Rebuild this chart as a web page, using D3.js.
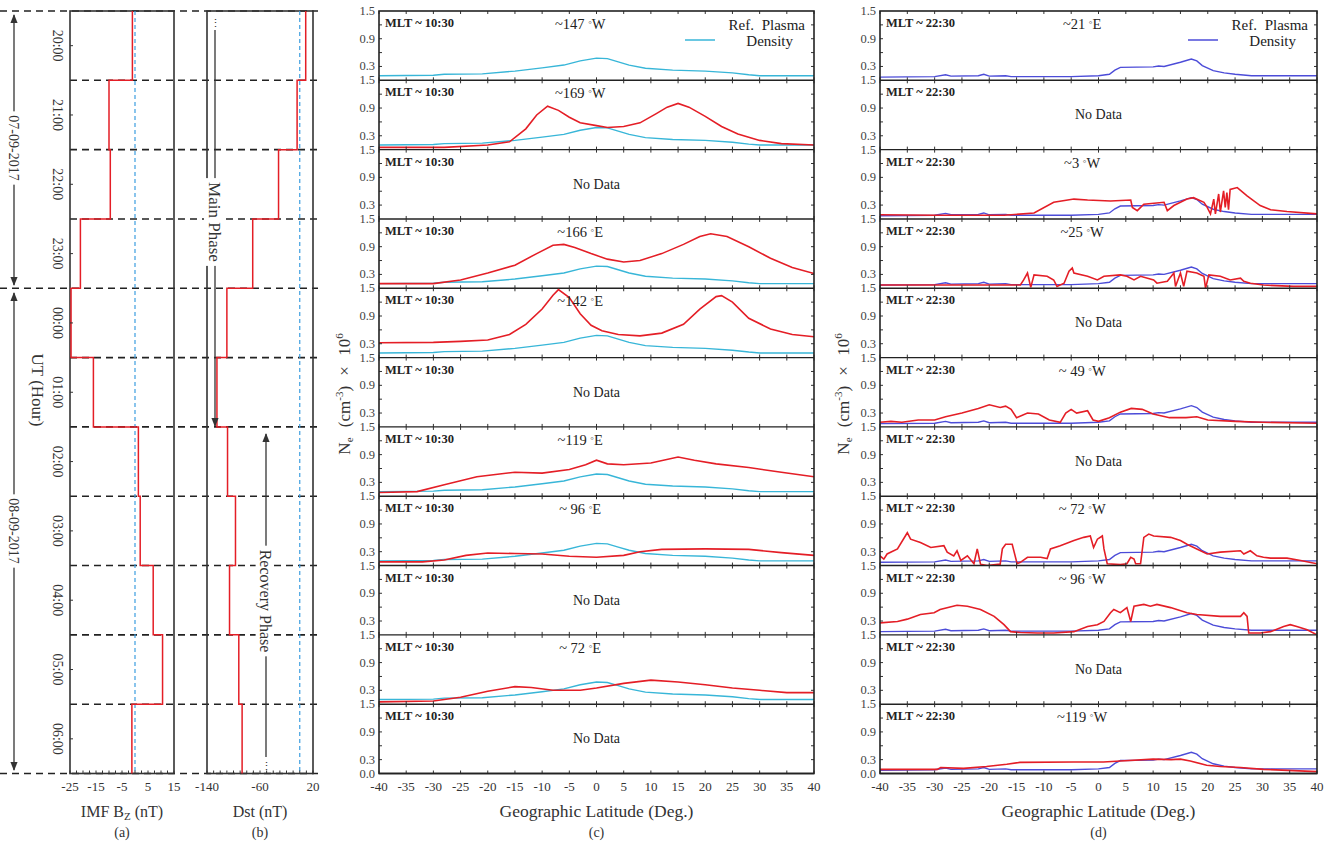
<!DOCTYPE html>
<html>
<head>
<meta charset="utf-8">
<script src="https://cdn.jsdelivr.net/npm/d3@7"></script>
<style>
  body { margin: 0; background: #fff; }
  svg { display: block; font-family: "Liberation Serif", "DejaVu Serif", serif; }
</style>
</head>
<body>
<div id="chart"></div>
<script>
// couleurs
const RED = '#e41e26', CYAN = '#38b6d8', BLUE = '#4c4cd8', DASHBLUE = '#3d9ee0';

// --- données (a) et (b)
const hours = ['20:00', '21:00', '22:00', '23:00', '00:00', '01:00', '02:00', '03:00', '04:00', '05:00', '06:00'];
const imfBz = [-1, -10, -9.5, -21, -24.6, -16, 1.3, 2, 7, 10.6, -1.2];
const dst = [9, -4, -32, -71, -110, -125, -109, -97, -106, -92, -87];
const bzTicks = [-25, -15, -5, 5, 15];
const dstTicks = [-140, -60, 20];
const dayBreaks = [0, 4, 11];   // frontières des jours (lignes pleine largeur)

// --- données (c) et (d)
const latTicks = [-40, -35, -30, -25, -20, -15, -10, -5, 0, 5, 10, 15, 20, 25, 30, 35, 40];
const neTicks = [0.3, 0.9, 1.5];

const refC = [[-40,0.1],[-30,0.11],[-28,0.13],[-21,0.14],[-15,0.2],[-10,0.27],[-6,0.33],[-3,0.42],[0,0.48],[2,0.47],[4,0.4],[6,0.33],[9,0.26],[14,0.22],[20,0.2],[25,0.16],[28,0.12],[30,0.1],[40,0.1]];
const refD = [[-40,0.07],[-30,0.08],[-28,0.12],[-27,0.09],[-22,0.1],[-21,0.13],[-20,0.09],[-17,0.1],[-16,0.08],[-5,0.08],[0,0.1],[2,0.13],[3,0.22],[4,0.28],[10,0.29],[11,0.31],[12,0.3],[15,0.39],[17,0.46],[18,0.42],[19,0.32],[21,0.21],[23,0.16],[25,0.13],[28,0.1],[40,0.1]];

const red169W = [[-40,0.05],[-28,0.05],[-20,0.1],[-16,0.17],[-13,0.45],[-11,0.75],[-9,0.94],[-7,0.85],[-5,0.7],[-3,0.58],[0,0.52],[2,0.48],[5,0.5],[8,0.58],[11,0.78],[13,0.92],[15,1.0],[17,0.92],[20,0.72],[23,0.5],[26,0.34],[30,0.2],[34,0.13],[40,0.1]];
const red166E = [[-40,0.1],[-30,0.1],[-25,0.18],[-20,0.33],[-15,0.5],[-11,0.75],[-8,0.93],[-6,0.95],[-4,0.88],[-1,0.75],[2,0.63],[5,0.57],[8,0.6],[12,0.75],[16,0.95],[19,1.12],[21,1.18],[24,1.12],[28,0.9],[32,0.65],[36,0.45],[40,0.32]];
const red142E = [[-40,0.32],[-30,0.33],[-25,0.35],[-20,0.38],[-16,0.5],[-13,0.72],[-10,1.05],[-8,1.35],[-7,1.47],[-5,1.3],[-3,0.95],[-1,0.7],[1,0.58],[4,0.5],[8,0.47],[12,0.53],[16,0.72],[19,1.05],[22,1.32],[23,1.34],[25,1.2],[28,0.85],[32,0.62],[36,0.5],[40,0.45]];
const red119E = [[-40,0.08],[-33,0.1],[-28,0.25],[-22,0.42],[-15,0.52],[-10,0.5],[-5,0.58],[-2,0.68],[0,0.78],[2,0.7],[5,0.68],[10,0.72],[15,0.85],[18,0.78],[22,0.7],[28,0.62],[34,0.52],[40,0.42]];
const red96E = [[-40,0.08],[-32,0.08],[-28,0.12],[-24,0.22],[-20,0.27],[-15,0.26],[-10,0.25],[-5,0.2],[0,0.18],[5,0.22],[8,0.3],[12,0.35],[20,0.36],[28,0.35],[34,0.28],[40,0.22]];
const red72E = [[-40,0.05],[-30,0.07],[-25,0.15],[-20,0.28],[-15,0.38],[-12,0.36],[-8,0.3],[-3,0.3],[0,0.35],[5,0.45],[10,0.52],[15,0.48],[20,0.42],[25,0.35],[30,0.3],[35,0.25],[40,0.25]];

const red3W = [[-40,0.09],[-30,0.08],[-17.3,0.08],[-11.8,0.13],[-8.2,0.36],[-4.5,0.43],[-2,0.41],[2.2,0.39],[5.9,0.41],[6.2,0.25],[7.1,0.18],[8.3,0.32],[12,0.36],[12.6,0.18],[13.8,0.29],[16.2,0.43],[17.4,0.46],[19.3,0.36],[19.9,0.25],[20.5,0.11],[21.1,0.43],[21.4,0.11],[22,0.54],[22.3,0.15],[22.9,0.61],[23.2,0.25],[23.5,0.57],[23.8,0.2],[24.1,0.64],[25.4,0.68],[27.2,0.5],[29.6,0.29],[31.5,0.2],[34.5,0.16],[40,0.11]];
const red25W = [[-40,0.07],[-30,0.07],[-14.3,0.07],[-13.7,0.18],[-13,0.33],[-12.4,0.02],[-11.8,0.29],[-9.4,0.26],[-8.2,0.18],[-7.6,0.04],[-6.3,0.11],[-5.4,0.37],[-4.8,0.44],[-4.5,0.33],[-2,0.26],[-0.2,0.18],[1,0.26],[4,0.29],[5.2,0.26],[6.5,0.18],[7.7,0.26],[10.1,0.18],[10.7,0.11],[12.6,0.15],[13.8,0.33],[14.1,0.04],[15,0.33],[15.6,0.04],[16.2,0.37],[18,0.33],[19.3,0.26],[19.6,0.0],[20.2,0.29],[22.3,0.26],[24.1,0.18],[26,0.22],[26.6,0.15],[27.8,0.11],[30.2,0.07],[35.7,0.04],[40,0.04]];
const red49W = [[-40,0.1],[-38,0.12],[-36,0.1],[-33,0.15],[-30,0.15],[-28,0.22],[-25,0.3],[-22,0.4],[-20,0.48],[-18,0.42],[-17,0.45],[-16,0.38],[-15,0.2],[-13,0.3],[-11,0.28],[-9,0.15],[-7,0.1],[-6,0.3],[-5,0.38],[-4,0.3],[-2,0.35],[-1,0.15],[0,0.12],[2,0.2],[4,0.32],[6,0.4],[8,0.38],[10,0.28],[13,0.2],[16,0.2],[18,0.22],[20,0.15],[25,0.12],[30,0.1],[40,0.08]];
const red72W = [[-40,0.21],[-39.3,0.14],[-38.7,0.25],[-36.8,0.36],[-35,0.71],[-34.4,0.57],[-32.6,0.5],[-30.7,0.39],[-28.3,0.43],[-27.7,0.29],[-26.5,0.21],[-25.9,0.32],[-25.2,0.11],[-24,0.21],[-22.8,0.04],[-22.2,0.36],[-21.6,0.03],[-20.4,0.0],[-18,0.03],[-17.6,0.36],[-17,0.46],[-15.8,0.46],[-14.9,0.04],[-14.3,0.07],[-13,0.18],[-10.6,0.18],[-9.4,0.15],[-8.8,0.36],[-7,0.43],[-4.5,0.54],[-2.7,0.61],[-1.5,0.64],[-0.9,0.39],[-0.2,0.57],[0.7,0.64],[1,0.36],[1.6,0.04],[4,0.02],[5.2,0.04],[5.9,0.18],[6.5,0.14],[6.8,0.04],[7.7,0.04],[8.3,0.61],[9.2,0.68],[10.1,0.64],[13.2,0.61],[15,0.54],[16.2,0.46],[18,0.36],[19.9,0.25],[22.3,0.29],[26,0.32],[26.6,0.25],[27.8,0.32],[29,0.21],[30.2,0.18],[31.5,0.16],[34.5,0.16],[37,0.11],[40,0.04]];
const red96W = [[-40,0.26],[-36.8,0.29],[-35,0.34],[-32.6,0.44],[-30.1,0.48],[-29,0.55],[-25.9,0.64],[-24,0.62],[-21.6,0.55],[-19.1,0.4],[-17.3,0.22],[-16.1,0.07],[-14.3,0.05],[-11.2,0.04],[-8.2,0.04],[-4.5,0.07],[-2,0.18],[-0.2,0.22],[1,0.29],[2.2,0.48],[2.8,0.55],[4,0.48],[5.2,0.59],[5.9,0.29],[6.5,0.62],[8.3,0.66],[9.5,0.62],[10.7,0.66],[13.2,0.59],[16.2,0.48],[18,0.44],[22.3,0.4],[26,0.4],[26.6,0.48],[27.2,0.4],[27.5,0.04],[29.6,0.04],[31.5,0.07],[33.9,0.18],[35.1,0.22],[36.3,0.18],[38.2,0.11],[40,0.0]];
const red119W = [[-40,0.09],[-29.5,0.09],[-28.9,0.13],[-24.7,0.11],[-20.5,0.15],[-16.8,0.2],[-14.4,0.24],[-4.6,0.25],[0.9,0.25],[4,0.27],[10,0.31],[13.3,0.3],[15,0.31],[16.8,0.27],[19.8,0.18],[22.3,0.15],[26,0.13],[30.2,0.09],[40,0.04]];

const lonC = ['~147', '~169', null, '~166', '~142', null, '~119', '~ 96', null, '~ 72', null];
const dirC = ['W', 'W', null, 'E', 'E', null, 'E', 'E', null, 'E', null];
const redC = [null, red169W, null, red166E, red142E, null, red119E, red96E, null, red72E, null];

const lonD = ['~21', null, '~3', '~25', null, '~ 49', null, '~ 72', '~ 96', null, '~119'];
const dirD = ['E', null, 'W', 'W', null, 'W', null, 'W', 'W', null, 'W'];
const redD = [null, null, red3W, red25W, null, red49W, null, red72W, red96W, null, red119W];

// --- mise en page
const svg = d3.select('#chart').append('svg').attr('width', 1333).attr('height', 845);
const rowY = d3.scaleLinear().domain([0, hours.length]).range([11, 773.5]);
const top0 = rowY(0), bot0 = rowY(hours.length);
const INK = '#333';

// flèches
const defs = svg.append('defs');
defs.append('marker').attr('id', 'arr').attr('viewBox', '0 0 10 10').attr('refX', 9).attr('refY', 5)
    .attr('markerWidth', 7).attr('markerHeight', 7).attr('orient', 'auto-start-reverse')
    .append('path').attr('d', 'M0,1 L10,5 L0,9 z').attr('fill', INK);

// ===== panneaux (a) et (b)
function stepPanel(x, values, ticks, minorStep, titleMain, titleSub, letter) {
    const [x0, x1] = x.range();
    svg.append('rect').attr('x', x0).attr('y', top0).attr('width', x1 - x0).attr('height', bot0 - top0)
        .attr('fill', 'none').attr('stroke', INK).attr('stroke-width', 1.6);

    svg.append('line').attr('x1', x(0)).attr('x2', x(0)).attr('y1', top0).attr('y2', bot0)
        .attr('stroke', DASHBLUE).attr('stroke-width', 1.2).attr('stroke-dasharray', '4,3');

    const pts = [];
    values.forEach((v, i) => { pts.push([x(v), rowY(i)]); pts.push([x(v), rowY(i + 1)]); });
    svg.append('path').attr('d', d3.line()(pts)).attr('fill', 'none').attr('stroke', RED).attr('stroke-width', 1.5);

    const [d0, d1] = x.domain();
    const minor = d3.range(d0, d1 + 0.001, minorStep);
    svg.append('g').selectAll('line').data(minor).join('line')
        .attr('x1', d => x(d)).attr('x2', d => x(d)).attr('y1', bot0).attr('y2', bot0 - 3)
        .attr('stroke', INK);

    svg.append('g').selectAll('text').data(ticks).join('text')
        .attr('x', d => x(d)).attr('y', 791).attr('text-anchor', 'middle')
        .attr('font-size', 13).attr('fill', INK).text(d => d);

    const cx = (x0 + x1) / 2;
    const t = svg.append('text').attr('x', cx).attr('y', 817).attr('text-anchor', 'middle')
        .attr('font-size', 16).attr('fill', INK).text(titleMain);
    if (titleSub) {
        t.append('tspan').attr('font-size', 11).attr('dy', 3).text(titleSub);
        t.append('tspan').attr('dy', -3).text(' (nT)');
    }
    svg.append('text').attr('x', cx).attr('y', 837).attr('text-anchor', 'middle')
        .attr('font-size', 14).attr('fill', INK).text(letter);
}

const xBz = d3.scaleLinear().domain([-25, 15]).range([70, 174]);
const xDst = d3.scaleLinear().domain([-140, 20]).range([207, 313]);

// lignes horizontales en tirets
svg.append('g').selectAll('line').data(d3.range(hours.length + 1)).join('line')
    .attr('x1', d => dayBreaks.includes(d) ? 0 : 70).attr('x2', 318)
    .attr('y1', d => rowY(d)).attr('y2', d => rowY(d))
    .attr('stroke', '#222').attr('stroke-width', 1.6).attr('stroke-dasharray', '7,5');

stepPanel(xBz, imfBz, bzTicks, 2.5, 'IMF B', 'Z', '(a)');
stepPanel(xDst, dst, dstTicks, 10, 'Dst (nT)', null, '(b)');

// heures
svg.append('g').selectAll('text').data(hours).join('text')
    .attr('transform', (d, i) => `translate(53,${(rowY(i) + rowY(i + 1)) / 2}) rotate(90)`)
    .attr('text-anchor', 'middle').attr('font-size', 14).attr('fill', INK).text(d => d);
svg.append('g').selectAll('line').data(hours).join('line')
    .attr('x1', 70).attr('x2', 73)
    .attr('y1', (d, i) => (rowY(i) + rowY(i + 1)) / 2).attr('y2', (d, i) => (rowY(i) + rowY(i + 1)) / 2)
    .attr('stroke', INK);

// flèche verticale avec texte sur fond blanc
function vArrow(x, y0, y1, yText, label, startArrow, endArrow, size) {
    const ln = svg.append('line').attr('x1', x).attr('x2', x).attr('y1', y0).attr('y2', y1)
        .attr('stroke', INK).attr('stroke-width', 1.3);
    if (startArrow) ln.attr('marker-start', 'url(#arr)');
    if (endArrow) ln.attr('marker-end', 'url(#arr)');
    const g = svg.append('g').attr('transform', `translate(${x - size * 0.35},${yText}) rotate(90)`);
    const bg = g.append('rect').attr('fill', '#fff');
    const t = g.append('text').attr('text-anchor', 'middle').attr('font-size', size).attr('fill', INK).text(label);
    const len = t.node().getComputedTextLength();
    bg.attr('x', -len / 2 - 4).attr('y', -size * 0.85).attr('width', len + 8).attr('height', size * 1.15);
}
vArrow(14, 15, 285, 148, '07-09-2017', true, true, 14);
vArrow(14, 293, 770, 531, '08-09-2017', true, true, 14);
svg.append('text').attr('transform', 'translate(32,390) rotate(90)').attr('text-anchor', 'middle')
    .attr('font-size', 17).attr('fill', INK).text('UT (Hour)');
vArrow(215, 30, 426, 222, 'Main Phase', false, true, 17);
vArrow(266, 434, 757, 601, 'Recovery Phase', true, false, 16);
// pointillés aux extrémités
svg.append('text').attr('x', 215).attr('y', 27).attr('text-anchor', 'middle').attr('font-size', 11).attr('fill', INK).text('⋮');
svg.append('text').attr('x', 266).attr('y', 770).attr('text-anchor', 'middle').attr('font-size', 11).attr('fill', INK).text('⋮');

// ===== panneaux (c) et (d)
function densityColumn(x, lons, dirs, reds, ref, refColor, mlt, yTitleX, letter) {
    const [x0, x1] = x.range();
    const g = svg.append('g');
    const line = d3.line().x(d => x(d[0]));

    for (let i = 0; i < hours.length; i++) {
        const top = rowY(i), bot = rowY(i + 1);
        const y = d3.scaleLinear().domain([0, 1.5]).range([bot, top]);
        const clipId = `clip-${letter[1]}-${i}`;
        defs.append('clipPath').attr('id', clipId).append('rect')
            .attr('x', x0).attr('y', top).attr('width', x1 - x0).attr('height', bot - top);

        const pg = g.append('g').attr('clip-path', `url(#${clipId})`);
        if (lons[i]) {
            pg.append('path').attr('d', line.y(d => y(d[1]))(ref))
                .attr('fill', 'none').attr('stroke', refColor).attr('stroke-width', 1.4);
        }
        if (reds[i]) {
            pg.append('path').attr('d', line.y(d => y(d[1]))(reds[i]))
                .attr('fill', 'none').attr('stroke', RED).attr('stroke-width', 1.6);
        }

        // ticks
        g.append('g').selectAll('line').data(latTicks).join('line')
            .attr('x1', d => x(d)).attr('x2', d => x(d)).attr('y1', bot).attr('y2', bot - 3).attr('stroke', INK);
        g.append('g').selectAll('line').data(latTicks).join('line')
            .attr('x1', d => x(d)).attr('x2', d => x(d)).attr('y1', top).attr('y2', top + 3).attr('stroke', INK);
        const yt = [0.3, 0.6, 0.9, 1.2];
        g.append('g').selectAll('line').data(yt).join('line')
            .attr('x1', x0).attr('x2', x0 + 3).attr('y1', d => y(d)).attr('y2', d => y(d)).attr('stroke', INK);
        g.append('g').selectAll('line').data(yt).join('line')
            .attr('x1', x1).attr('x2', x1 - 3).attr('y1', d => y(d)).attr('y2', d => y(d)).attr('stroke', INK);

        const labels = i === hours.length - 1 ? [0.0].concat(neTicks) : neTicks;
        g.append('g').selectAll('text').data(labels).join('text')
            .attr('x', x0 - 4).attr('y', d => y(d) + 4).attr('text-anchor', 'end')
            .attr('font-size', 12.5).attr('fill', '#444').text(d => d.toFixed(1));

        g.append('line').attr('x1', x0).attr('x2', x1).attr('y1', bot).attr('y2', bot)
            .attr('stroke', '#222').attr('stroke-width', 1.4);

        g.append('text').attr('x', x0 + 6).attr('y', top + 16).attr('font-size', 12.5).attr('font-weight', 'bold')
            .attr('fill', '#222').text(mlt);
        if (lons[i]) {
            const t = g.append('text').attr('x', x(-3)).attr('y', top + 18).attr('text-anchor', 'middle')
                .attr('font-size', 14.5).attr('fill', '#222').text(lons[i] + ' ');
            t.append('tspan').attr('font-size', 9).attr('dy', -2).attr('fill', '#555').text('°');
            t.append('tspan').attr('dy', 2).text(dirs[i]);
        } else {
            g.append('text').attr('x', x(0)).attr('y', top + 39).attr('text-anchor', 'middle')
                .attr('font-size', 14).attr('fill', '#222').text('No Data');
        }
    }

    g.append('rect').attr('x', x0).attr('y', top0).attr('width', x1 - x0).attr('height', bot0 - top0)
        .attr('fill', 'none').attr('stroke', '#222').attr('stroke-width', 1.6);

    // légende
    const lx = x1 - 9;
    g.append('text').attr('x', lx).attr('y', top0 + 19).attr('text-anchor', 'end')
        .attr('font-size', 15).attr('fill', '#222').attr('word-spacing', 4).text('Ref. Plasma');
    g.append('text').attr('x', lx - 12).attr('y', top0 + 35).attr('text-anchor', 'end')
        .attr('font-size', 15).attr('fill', '#222').text('Density');
    g.append('line').attr('x1', x1 - 129).attr('x2', x1 - 99).attr('y1', top0 + 29).attr('y2', top0 + 29)
        .attr('stroke', refColor).attr('stroke-width', 1.5);

    // axe x
    g.append('g').selectAll('text').data(latTicks).join('text')
        .attr('x', d => x(d)).attr('y', 791).attr('text-anchor', 'middle')
        .attr('font-size', 13).attr('fill', INK).text(d => d);
    g.append('text').attr('x', (x0 + x1) / 2).attr('y', 817).attr('text-anchor', 'middle')
        .attr('font-size', 17.5).attr('fill', INK).text('Geographic Latitude (Deg.)');
    g.append('text').attr('x', (x0 + x1) / 2).attr('y', 837).attr('text-anchor', 'middle')
        .attr('font-size', 14).attr('fill', INK).text(letter);

    // titre y
    const yt = g.append('text').attr('transform', `translate(${yTitleX},394) rotate(-90)`)
        .attr('text-anchor', 'middle').attr('font-size', 17).attr('fill', INK)
        .attr('word-spacing', 6).text('N');
    yt.append('tspan').attr('font-size', 11).attr('dy', 3).text('e');
    yt.append('tspan').attr('dy', -3).text(' (cm');
    yt.append('tspan').attr('font-size', 11).attr('dy', -7).text('-3');
    yt.append('tspan').attr('dy', 7).text(') × 10');
    yt.append('tspan').attr('font-size', 11).attr('dy', -7).text('6');
}

const xLatC = d3.scaleLinear().domain([-40, 40]).range([379, 814]);
const xLatD = d3.scaleLinear().domain([-40, 40]).range([880, 1317]);
densityColumn(xLatC, lonC, dirC, redC, refC, CYAN, 'MLT ~ 10:30', 350, '(c)');
densityColumn(xLatD, lonD, dirD, redD, refD, BLUE, 'MLT ~ 22:30', 849, '(d)');
</script>
</body>
</html>
